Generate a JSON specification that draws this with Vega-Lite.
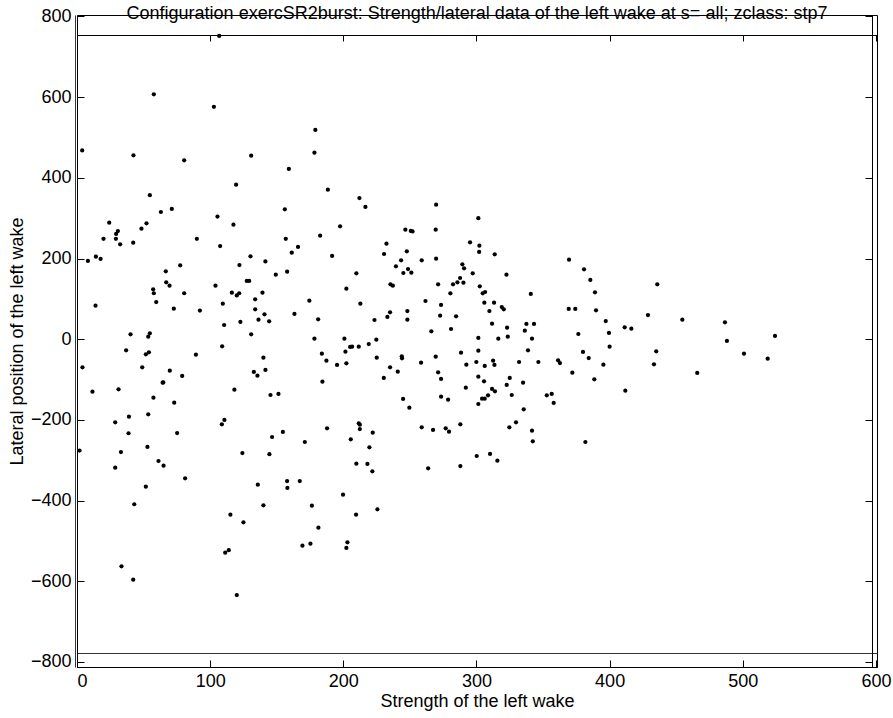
{
  "$schema": "https://vega.github.io/schema/vega-lite/v6.json",
  "width": 800,
  "height": 652,
  "autosize": "none",
  "padding": {"left": 77, "top": 15, "right": 16, "bottom": 51},
  "background": "white",
  "config": {
    "font": "Liberation Sans",
    "view": {"stroke": "black", "strokeWidth": 1},
    "axis": {"grid": false, "domainColor": "black", "tickColor": "black", "labelColor": "black", "titleColor": "black", "labelFontSize": 18, "titleFontSize": 18, "titleFontWeight": "normal", "labelFont": "Liberation Sans", "titleFont": "Liberation Sans", "domainWidth": 1, "tickWidth": 1}
  },
  "title": {"text": "Configuration exercSR2burst: Strength/lateral data of the left wake at s= all; zclass: stp7", "fontSize": 18, "fontWeight": "normal", "font": "Liberation Sans", "baseline": "alphabetic", "offset": -12, "dy": 18, "anchor": "middle", "color": "black"},
  "datasets": {
    "pts": [
      {"strength": 106.8, "lateral": 751.7}, {"strength": 57.7, "lateral": 607}, {"strength": 102.8, "lateral": 576}, {"strength": 3.9, "lateral": 468}, {"strength": 42.4, "lateral": 456}, {"strength": 80.5, "lateral": 443.5}, {"strength": 130.8, "lateral": 455}, {"strength": 119.5, "lateral": 383}, {"strength": 54.7, "lateral": 357}, {"strength": 63, "lateral": 315.4}, {"strength": 71.2, "lateral": 323}, {"strength": 24.2, "lateral": 289}, {"strength": 52.2, "lateral": 287.4}, {"strength": 48.4, "lateral": 274}, {"strength": 30.7, "lateral": 268}, {"strength": 29.4, "lateral": 261}, {"strength": 105.5, "lateral": 304}, {"strength": 117.5, "lateral": 284}, {"strength": 19.9, "lateral": 249}, {"strength": 29.2, "lateral": 249}, {"strength": 90, "lateral": 249},
      {"strength": 32.4, "lateral": 235.4}, {"strength": 42.2, "lateral": 239.4}, {"strength": 107.5, "lateral": 231}, {"strength": 8.2, "lateral": 194}, {"strength": 14.2, "lateral": 204.6}, {"strength": 17.7, "lateral": 199}, {"strength": 77.5, "lateral": 183.3}, {"strength": 66.7, "lateral": 168.4}, {"strength": 67, "lateral": 141}, {"strength": 69.5, "lateral": 132.8}, {"strength": 57.2, "lateral": 123.8}, {"strength": 57.7, "lateral": 114}, {"strength": 59.5, "lateral": 92.3}, {"strength": 80.5, "lateral": 114}, {"strength": 72.7, "lateral": 75.7}, {"strength": 92.3, "lateral": 71}, {"strength": 104, "lateral": 132.8}, {"strength": 122, "lateral": 184}, {"strength": 130.3, "lateral": 205.6}, {"strength": 141.5, "lateral": 193}, {"strength": 149.3, "lateral": 160}, {"strength": 127.5, "lateral": 144.4}, {"strength": 129.3, "lateral": 144.4}, {"strength": 116.3, "lateral": 115.4}, {"strength": 120, "lateral": 108.6}, {"strength": 121.8, "lateral": 114}, {"strength": 139.3, "lateral": 115.4}, {"strength": 133.8, "lateral": 99}, {"strength": 109.5, "lateral": 88}, {"strength": 133.8, "lateral": 74.2}, {"strength": 140.8, "lateral": 61.8}, {"strength": 136.3, "lateral": 48.5}, {"strength": 144.3, "lateral": 44.5}, {"strength": 122.7, "lateral": 42.8}, {"strength": 110.5, "lateral": 35.3}, {"strength": 130.8, "lateral": 12.3}, {"strength": 13.9, "lateral": 83.2}, {"strength": 40.2, "lateral": 12.3}, {"strength": 54.7, "lateral": 14.7}, {"strength": 53.5, "lateral": 6.3}, {"strength": 36.9, "lateral": -27.4}, {"strength": 54, "lateral": -32.3}, {"strength": 51.7, "lateral": -37.3}, {"strength": 89.3, "lateral": -38.3}, {"strength": 109, "lateral": -17.5}, {"strength": 4.1, "lateral": -69.5}, {"strength": 49, "lateral": -69.5}, {"strength": 69.7, "lateral": -78}, {"strength": 79, "lateral": -91}, {"strength": 64.3, "lateral": -107.7}, {"strength": 64.8, "lateral": -107}, {"strength": 11.6, "lateral": -130}, {"strength": 31.2, "lateral": -124}, {"strength": 57.4, "lateral": -144.8}, {"strength": 73, "lateral": -157.3}, {"strength": 118.2, "lateral": -125}, {"strength": 145.3, "lateral": -138.2}, {"strength": 151.3, "lateral": -135.7}, {"strength": 140, "lateral": -45.7}, {"strength": 132.8, "lateral": -81}, {"strength": 135.5, "lateral": -90.3}, {"strength": 141.5, "lateral": -76.2}, {"strength": 53.5, "lateral": -186}, {"strength": 39, "lateral": -192}, {"strength": 28.7, "lateral": -205.9}, {"strength": 38.7, "lateral": -233}, {"strength": 75.2, "lateral": -232.4}, {"strength": 110.7, "lateral": -200.1}, {"strength": 108.8, "lateral": -210.8}, {"strength": 146.5, "lateral": -242.3}, {"strength": 1.9, "lateral": -276}, {"strength": 33, "lateral": -279.5}, {"strength": 52.9, "lateral": -267}, {"strength": 124.2, "lateral": -282}, {"strength": 144.5, "lateral": -285},
      {"strength": 28.7, "lateral": -318.4}, {"strength": 61.2, "lateral": -301.8}, {"strength": 65, "lateral": -313.4}, {"strength": 81.2, "lateral": -344.6}, {"strength": 51.7, "lateral": -365.5}, {"strength": 43, "lateral": -409}, {"strength": 135.8, "lateral": -360.5}, {"strength": 140, "lateral": -411.6}, {"strength": 115.2, "lateral": -434.9}, {"strength": 125, "lateral": -453.7}, {"strength": 111.3, "lateral": -529}, {"strength": 114, "lateral": -523}, {"strength": 33.4, "lateral": -562.8}, {"strength": 42.2, "lateral": -596}, {"strength": 120, "lateral": -634},
      {"strength": 179, "lateral": 518.7}, {"strength": 178.3, "lateral": 462.4}, {"strength": 159.1, "lateral": 422}, {"strength": 188.4, "lateral": 370.7}, {"strength": 156.1, "lateral": 322}, {"strength": 212.1, "lateral": 350}, {"strength": 216.6, "lateral": 328}, {"strength": 269.7, "lateral": 333.5}, {"strength": 301.4, "lateral": 300}, {"strength": 156.8, "lateral": 249}, {"strength": 182.6, "lateral": 256.7}, {"strength": 197.6, "lateral": 280}, {"strength": 246.6, "lateral": 271.6}, {"strength": 250.7, "lateral": 268.5}, {"strength": 252, "lateral": 267.3}, {"strength": 269.4, "lateral": 271.6},
      {"strength": 161.3, "lateral": 214.6}, {"strength": 166, "lateral": 228.7}, {"strength": 191.6, "lateral": 206.4}, {"strength": 157.8, "lateral": 167.4}, {"strength": 232.4, "lateral": 236.9}, {"strength": 230.6, "lateral": 211.3}, {"strength": 247.7, "lateral": 218}, {"strength": 243.4, "lateral": 195.7}, {"strength": 258.9, "lateral": 195.7}, {"strength": 269.7, "lateral": 199.7}, {"strength": 295.2, "lateral": 240.3}, {"strength": 302.2, "lateral": 232}, {"strength": 302, "lateral": 216.3}, {"strength": 239.5, "lateral": 180.8}, {"strength": 248.6, "lateral": 174.1}, {"strength": 245.1, "lateral": 164.2}, {"strength": 251.1, "lateral": 165}, {"strength": 289.4, "lateral": 185.8}, {"strength": 290.7, "lateral": 175.9}, {"strength": 297.2, "lateral": 163.5}, {"strength": 287.7, "lateral": 151.8}, {"strength": 282.4, "lateral": 136.2}, {"strength": 285.7, "lateral": 141.2}, {"strength": 290.2, "lateral": 140.2}, {"strength": 302.5, "lateral": 131.3}, {"strength": 202.3, "lateral": 125.3}, {"strength": 209.8, "lateral": 163.5}, {"strength": 235.4, "lateral": 136.2}, {"strength": 237.2, "lateral": 132.8}, {"strength": 271.2, "lateral": 136.2}, {"strength": 280.4, "lateral": 113.9}, {"strength": 174.5, "lateral": 95.6}, {"strength": 212.8, "lateral": 88.1}, {"strength": 261.7, "lateral": 94.8}, {"strength": 273.4, "lateral": 84.9}, {"strength": 163.3, "lateral": 62.6}, {"strength": 181.1, "lateral": 49.5}, {"strength": 223.4, "lateral": 47.7}, {"strength": 233.1, "lateral": 55.2}, {"strength": 235.1, "lateral": 66.8}, {"strength": 248.1, "lateral": 70}, {"strength": 248.1, "lateral": 48.5}, {"strength": 272.7, "lateral": 58.4}, {"strength": 284.7, "lateral": 56.9}, {"strength": 280.9, "lateral": 25.4}, {"strength": 266.1, "lateral": 19.7}, {"strength": 178.3, "lateral": 1.4}, {"strength": 200.8, "lateral": 1.4}, {"strength": 224.8, "lateral": -1.1}, {"strength": 219.1, "lateral": -11.8}, {"strength": 211.6, "lateral": -18.5}, {"strength": 205.1, "lateral": -19.2}, {"strength": 206.6, "lateral": -18.5}, {"strength": 201.6, "lateral": -30.9}, {"strength": 183.9, "lateral": -35.8}, {"strength": 187.3, "lateral": -53.2}, {"strength": 195.3, "lateral": -63.8}, {"strength": 202.3, "lateral": -59.6}, {"strength": 225.1, "lateral": -45.7}, {"strength": 243.9, "lateral": -42.3}, {"strength": 244.1, "lateral": -47.2}, {"strength": 235.1, "lateral": -69.5}, {"strength": 240.9, "lateral": -80.4}, {"strength": 230.4, "lateral": -96}, {"strength": 258.4, "lateral": -58.1}, {"strength": 269.4, "lateral": -43.2}, {"strength": 271.2, "lateral": -81.9}, {"strength": 273.4, "lateral": -98.5}, {"strength": 288.4, "lateral": -33.3}, {"strength": 292.4, "lateral": -63}, {"strength": 299.9, "lateral": -56.4}, {"strength": 301.4, "lateral": 3.1}, {"strength": 301.4, "lateral": -28.3}, {"strength": 301.4, "lateral": -92.8}, {"strength": 292, "lateral": -120}, {"strength": 301.4, "lateral": -160.5}, {"strength": 273.4, "lateral": -142.4}, {"strength": 278.7, "lateral": -149.8}, {"strength": 244.9, "lateral": -148.1}, {"strength": 249.6, "lateral": -169.6}, {"strength": 184.3, "lateral": -105.2}, {"strength": 187.8, "lateral": -220.7}, {"strength": 154.6, "lateral": -229.9}, {"strength": 171.1, "lateral": -254.7}, {"strength": 211.6, "lateral": -208.3}, {"strength": 212.4, "lateral": -211.8}, {"strength": 212.4, "lateral": -222.5}, {"strength": 222.1, "lateral": -231.6}, {"strength": 205.6, "lateral": -248}, {"strength": 219.6, "lateral": -267.8}, {"strength": 258.9, "lateral": -218.3}, {"strength": 267.4, "lateral": -224.9}, {"strength": 276.9, "lateral": -220.7}, {"strength": 279.4, "lateral": -229.1}, {"strength": 287.9, "lateral": -210.8}, {"strength": 300.2, "lateral": -289.4},
      {"strength": 157.8, "lateral": -351.4}, {"strength": 158, "lateral": -368.7}, {"strength": 167.3, "lateral": -351.4}, {"strength": 209.8, "lateral": -308.4}, {"strength": 218.1, "lateral": -309.2}, {"strength": 221.8, "lateral": -327.3}, {"strength": 263.7, "lateral": -319.8}, {"strength": 287.9, "lateral": -314.2}, {"strength": 199.8, "lateral": -385.3}, {"strength": 176.4, "lateral": -412.6}, {"strength": 225.6, "lateral": -421.5}, {"strength": 209.6, "lateral": -434.9}, {"strength": 181.3, "lateral": -467}, {"strength": 169.3, "lateral": -511.7}, {"strength": 175.3, "lateral": -506.7}, {"strength": 203.1, "lateral": -503.3}, {"strength": 202.3, "lateral": -517.4}, {"strength": 310.2, "lateral": -284.4}, {"strength": 315.7, "lateral": -301},
      {"strength": 313.7, "lateral": 210.6}, {"strength": 322.5, "lateral": 160}, {"strength": 369.5, "lateral": 197.2}, {"strength": 380.8, "lateral": 173.4}, {"strength": 385.5, "lateral": 146.9}, {"strength": 389, "lateral": 116.4}, {"strength": 435.8, "lateral": 136.2}, {"strength": 304.7, "lateral": 113.9}, {"strength": 306.5, "lateral": 117.1}, {"strength": 340.8, "lateral": 112.2}, {"strength": 305.9, "lateral": 90.6}, {"strength": 313.2, "lateral": 90.6}, {"strength": 319, "lateral": 79.9}, {"strength": 320.5, "lateral": 74.2}, {"strength": 309.7, "lateral": 70}, {"strength": 369.3, "lateral": 75}, {"strength": 374.2, "lateral": 75}, {"strength": 389.8, "lateral": 71.7}, {"strength": 428.8, "lateral": 60}, {"strength": 397.1, "lateral": 45.2}, {"strength": 411.3, "lateral": 29.6}, {"strength": 416.3, "lateral": 26.1}, {"strength": 311.7, "lateral": 38.6}, {"strength": 323, "lateral": 28.6}, {"strength": 337.5, "lateral": 37.8}, {"strength": 343.2, "lateral": 37.8}, {"strength": 336.3, "lateral": 21.2}, {"strength": 323.5, "lateral": 6.3}, {"strength": 316.4, "lateral": 1.4}, {"strength": 341.7, "lateral": 1.4}, {"strength": 399.5, "lateral": 15.5}, {"strength": 376.5, "lateral": 13}, {"strength": 400, "lateral": -18.5}, {"strength": 435, "lateral": -29.9}, {"strength": 338.7, "lateral": -27.4}, {"strength": 380, "lateral": -31.6}, {"strength": 384.3, "lateral": -46.5}, {"strength": 332, "lateral": -56.4}, {"strength": 346.5, "lateral": -56.4}, {"strength": 312.5, "lateral": -53.2}, {"strength": 313.5, "lateral": -63.8}, {"strength": 306.2, "lateral": -66.3}, {"strength": 361.3, "lateral": -52.2}, {"strength": 362.7, "lateral": -58.9}, {"strength": 395.3, "lateral": -63}, {"strength": 433.3, "lateral": -62}, {"strength": 372, "lateral": -83}, {"strength": 305.7, "lateral": -104.2}, {"strength": 325, "lateral": -96}, {"strength": 322.7, "lateral": -113.4}, {"strength": 335, "lateral": -107.7}, {"strength": 388.5, "lateral": -99.3}, {"strength": 411.8, "lateral": -127.5}, {"strength": 311.7, "lateral": -123.3}, {"strength": 313.9, "lateral": -129}, {"strength": 326.5, "lateral": -138.2}, {"strength": 308.7, "lateral": -138.9}, {"strength": 304.2, "lateral": -147.3}, {"strength": 306.2, "lateral": -147.3}, {"strength": 352.8, "lateral": -138.9}, {"strength": 356.5, "lateral": -135.7}, {"strength": 358, "lateral": -158}, {"strength": 335.5, "lateral": -173.6}, {"strength": 329.7, "lateral": -205.8}, {"strength": 324.7, "lateral": -218.3}, {"strength": 341.7, "lateral": -226.7}, {"strength": 342.3, "lateral": -252.9}, {"strength": 381.8, "lateral": -254.7},
      {"strength": 454.6, "lateral": 48.5}, {"strength": 486.6, "lateral": 42}, {"strength": 488.1, "lateral": -4.3}, {"strength": 524.2, "lateral": 8.1}, {"strength": 500.9, "lateral": -35.8}, {"strength": 518.7, "lateral": -48.2}, {"strength": 465.8, "lateral": -83.6}
    ]
  },
  "layer": [
    {
      "data": {"name": "pts"},
      "mark": {"type": "point", "opacity": 0},
      "encoding": {
        "x": {"field": "strength", "type": "quantitative", "scale": {"domain": [0, 600.8], "nice": false, "zero": false}, "axis": {"orient": "top", "offset": -20, "labels": false, "title": null, "tickSize": -6, "values": [0, 100, 200, 300, 400, 500, 600]}},
        "y": {"field": "lateral", "type": "quantitative", "scale": {"domain": [-812.4, 803.7], "nice": false, "zero": false}, "axis": {"orient": "right", "offset": -5, "labels": false, "title": null, "tickSize": -7, "values": [-800, -600, -400, -200, 0, 200, 400, 600, 800]}}
      }
    },
    {
      "data": {"name": "pts"},
      "mark": {"type": "point", "opacity": 0},
      "encoding": {
        "x": {"field": "strength", "type": "quantitative", "scale": {"domain": [0, 600.8], "nice": false, "zero": false}, "axis": {"orient": "bottom", "offset": -14, "labels": false, "ticks": false, "title": null, "domainColor": "#333333"}},
        "y": {"field": "lateral", "type": "quantitative", "scale": {"domain": [-812.4, 803.7], "nice": false, "zero": false}, "axis": {"orient": "left", "offset": 2, "labels": false, "ticks": false, "title": null, "domainColor": "#333333"}}
      }
    },
    {
      "data": {"name": "pts"},
      "mark": {"type": "circle", "size": 18, "color": "black", "opacity": 1},
      "encoding": {
        "x": {"field": "strength", "type": "quantitative", "scale": {"domain": [0, 600.8], "nice": false, "zero": false}, "axis": {"orient": "bottom", "values": [0, 100, 200, 300, 400, 500, 600], "tickSize": -7, "labelPadding": 12, "title": "Strength of the left wake", "titlePadding": 2}},
        "y": {"field": "lateral", "type": "quantitative", "scale": {"domain": [-812.4, 803.7], "nice": false, "zero": false}, "axis": {"orient": "left", "values": [-800, -600, -400, -200, 0, 200, 400, 600, 800], "tickSize": -7, "labelPadding": 13, "title": "Lateral position of the left wake", "titlePadding": 4}}
      }
    }
  ],
  "resolve": {"axis": {"x": "independent", "y": "independent"}}
}
